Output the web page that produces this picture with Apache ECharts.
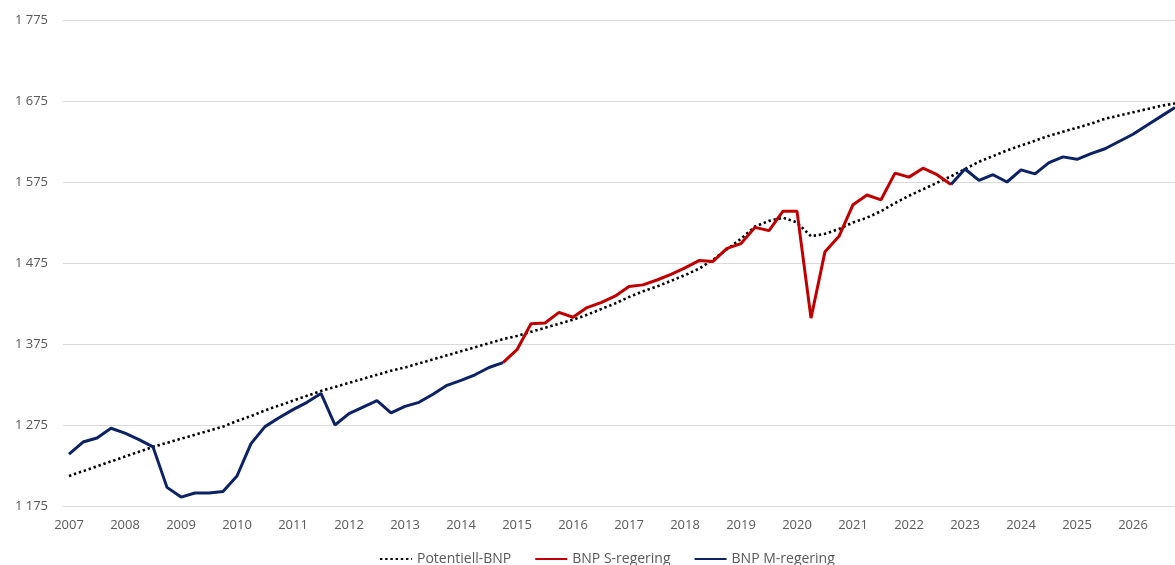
<!DOCTYPE html>
<html>
<head>
<meta charset="utf-8">
<script src="https://cdn.jsdelivr.net/npm/echarts@6/dist/echarts.min.js"></script>
<style>
  html, body { margin: 0; padding: 0; background: #fff; }
</style>
</head>
<body>
<div id="chart" style="width: 1175px; height: 565px"></div>
<script>
// kvartal 2007K1 - 2026K4
const years = [2007, 2008, 2009, 2010, 2011, 2012, 2013, 2014, 2015, 2016,
  2017, 2018, 2019, 2020, 2021, 2022, 2023, 2024, 2025, 2026];
const quarters = [];
years.forEach(y => ['K1', 'K2', 'K3', 'K4'].forEach(q => quarters.push(y + q)));

const potentiellBnp = [
  1212, 1218, 1224, 1230, 1236, 1242, 1248, 1253, 1258, 1263,
  1268, 1273, 1280, 1286, 1293, 1299, 1305, 1311, 1317, 1322,
  1327, 1332, 1337, 1342, 1346, 1351, 1356, 1361, 1366, 1371,
  1376, 1381, 1385, 1390, 1395, 1400, 1405, 1411, 1418, 1425,
  1433, 1440, 1446, 1453, 1460, 1468, 1479, 1492, 1505, 1520,
  1527, 1531, 1525, 1508, 1511, 1517, 1525, 1531, 1539, 1549,
  1558, 1566, 1574, 1582, 1591, 1600, 1607, 1614, 1620, 1626,
  1632, 1637, 1642, 1647, 1653, 1657, 1661, 1665, 1669, 1672
];

// M-regering 2007K1 - 2014K4
const mRegering1 = [
  1239, 1254, 1259, 1271, 1265, 1257, 1248, 1198, 1186, 1191,
  1191, 1193, 1212, 1252, 1273, 1284, 1294, 1303, 1314, 1275,
  1289, 1297, 1305, 1290, 1298, 1303, 1313, 1324, 1330, 1337,
  1346, 1352
];
// S-regering 2014K4 - 2022K4
const sRegering = [
  1352, 1368, 1400, 1401, 1414, 1408, 1420, 1426, 1434, 1446,
  1448, 1454, 1461, 1469, 1478, 1477, 1493, 1499, 1519, 1515,
  1539, 1539, 1407, 1489, 1508, 1547, 1559, 1553, 1586, 1581,
  1592, 1584, 1572
];
// M-regering 2022K4 - 2026K4
const mRegering2 = [
  1572, 1591, 1577, 1584, 1575, 1590, 1585, 1599, 1606, 1603,
  1610, 1616, 1625, 1634, 1645, 1656, 1667
];

const sStart = 31;
const m2Start = 63;

const mSeries = quarters.map((q, i) => {
  if (i < mRegering1.length) return mRegering1[i];
  if (i >= m2Start) return mRegering2[i - m2Start];
  return null;
});
const sSeries = quarters.map((q, i) => {
  const k = i - sStart;
  return (k >= 0 && k < sRegering.length) ? sRegering[k] : null;
});

const fmt = v => String(v).replace(/\B(?=(\d{3})+(?!\d))/g, ' ');

const myChart = echarts.init(document.getElementById('chart'));
myChart.setOption({
  animation: false,
  textStyle: { fontFamily: 'Open Sans' },
  grid: [
    { left: 69, right: -4, top: 20, height: 486 },
    // bara stödlinjer
    { left: 63, right: 0, top: 20, height: 486 }
  ],
  legend: {
    left: 374,
    top: 547,
    itemWidth: 32,
    itemHeight: 14,
    itemGap: 23,
    itemStyle: { opacity: 0 },
    textStyle: { color: '#595959', fontSize: 14, fontFamily: 'Open Sans' },
    data: ['Potentiell-BNP', 'BNP S-regering', 'BNP M-regering']
  },
  xAxis: [
    {
      type: 'category',
      data: quarters,
      boundaryGap: false,
      axisLine: { show: false },
      axisTick: { show: false },
      axisLabel: {
        interval: 3,
        margin: 13,
        color: '#595959',
        fontSize: 13,
        formatter: v => v.slice(0, 4)
      }
    },
    { gridIndex: 1, type: 'value', show: false, min: 0, max: 1 }
  ],
  yAxis: [
    {
      type: 'value',
      min: 1175,
      max: 1775,
      interval: 100,
      splitLine: { show: false },
      axisLine: { show: false },
      axisTick: { show: false },
      axisLabel: { color: '#595959', fontSize: 13, margin: 21, formatter: fmt }
    },
    {
      gridIndex: 1,
      type: 'value',
      min: 1175,
      max: 1775,
      interval: 100,
      axisLine: { show: false },
      axisTick: { show: false },
      axisLabel: { show: false },
      splitLine: { lineStyle: { color: '#d9d9d9', width: 1 } }
    }
  ],
  series: [
    {
      name: 'Potentiell-BNP',
      type: 'line',
      data: potentiellBnp,
      symbol: 'none',
      z: 3,
      lineStyle: { color: '#000', width: 2.6, type: [2.4, 2.8] },
      itemStyle: { color: '#000' }
    },
    {
      name: 'BNP S-regering',
      type: 'line',
      data: sSeries,
      symbol: 'none',
      lineStyle: { color: '#c00000', width: 3 },
      itemStyle: { color: '#c00000' }
    },
    {
      name: 'BNP M-regering',
      type: 'line',
      data: mSeries,
      symbol: 'none',
      lineStyle: { color: '#0c2262', width: 3 },
      itemStyle: { color: '#0c2262' }
    }
  ]
});
</script>
</body>
</html>
